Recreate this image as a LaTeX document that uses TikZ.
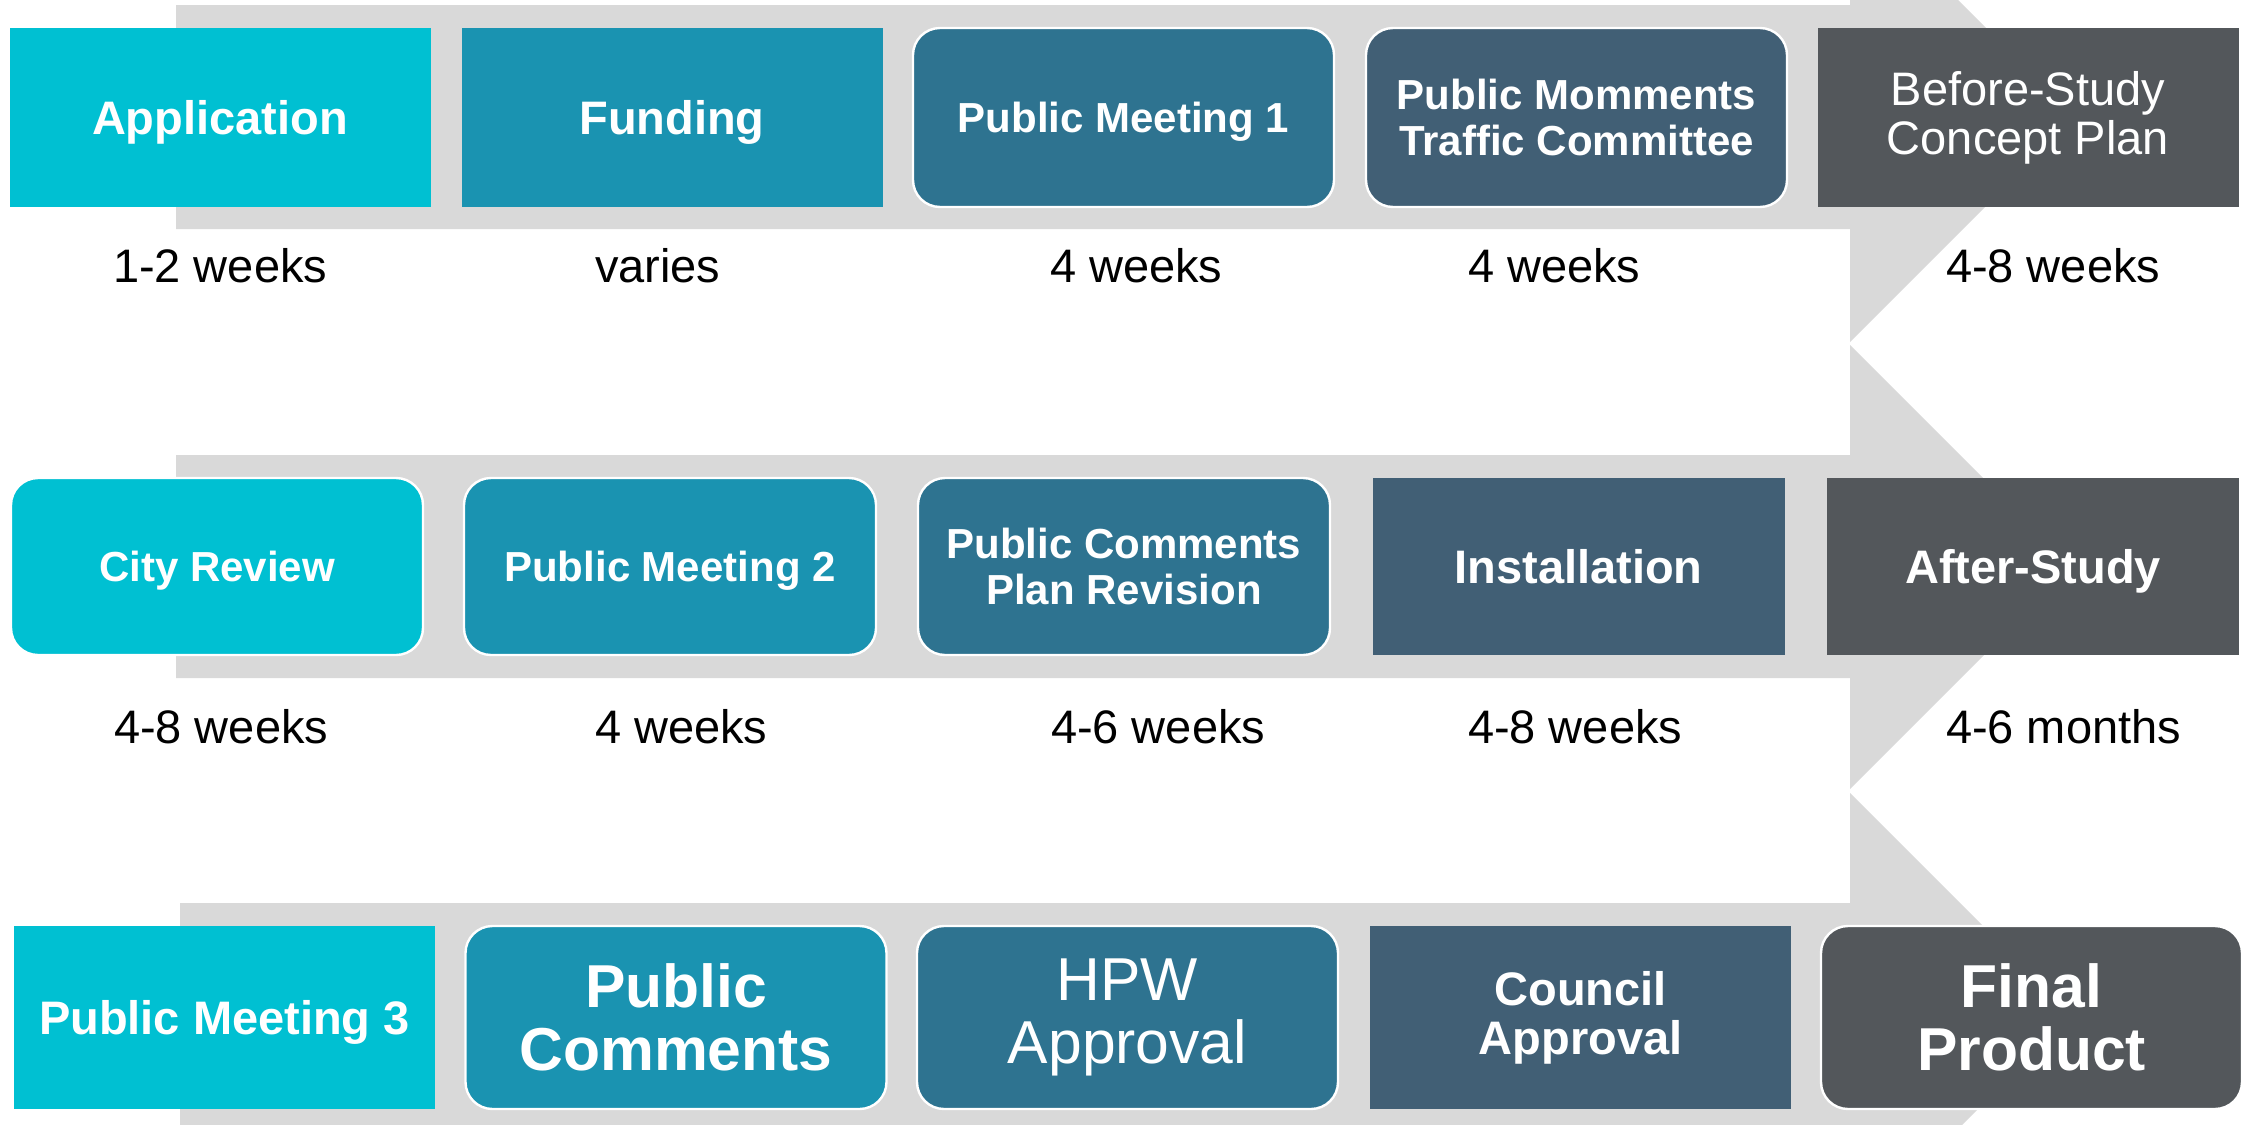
\documentclass[tikz,border=0pt]{standalone}
\usepackage{fontspec}
\setmainfont{Liberation Sans}
\usetikzlibrary{positioning}
\definecolor{pcCyan}{RGB}{0, 192, 210}
\definecolor{pcTeal}{RGB}{26, 147, 177}
\definecolor{pcBlue}{RGB}{46, 115, 144}
\definecolor{pcSlate}{RGB}{65, 95, 117}
\definecolor{pcGray}{RGB}{83, 87, 91}
\definecolor{pcBand}{RGB}{217, 217, 217}
\newcommand{\fsSmall}{\fontsize{21}{23}\selectfont}
\newcommand{\fsMid}{\fontsize{23.5}{24.6}\selectfont}
\newcommand{\fsBig}{\fontsize{30.3}{31.6}\selectfont}
\tikzset{
    base/.style={
        align=center,
        inner sep=0pt,
        outer sep=0pt
    },
    stage/.style={
        base,
        rectangle,
        text=white
    },
    roundstage/.style={
        stage,
        rounded corners=13.5pt,
        draw=white,
        line width=1.2pt
    },
    oneline/.style={text depth=0pt},
    rowA/.style={minimum width=210.5pt, minimum height=89.5pt},
    rowB/.style={minimum width=206pt, minimum height=88.5pt},
    rowC/.style={minimum width=210.5pt, minimum height=91.5pt},
    duration/.style={
        base,
        anchor=base west,
        font=\fsMid,
        text=black
    },
    band/.style={
        fill=pcBand
    }
}
\begin{document}
\begin{tikzpicture}[x=0.5pt, y=-0.5pt]
  \clip (0,0) rectangle (2250,1125);
  \fill[white] (0,0) rectangle (2250,1125);

  % Grey arrows behind the rows
  \fill[band] (176,5) -- (1850,5) -- (1850,-108) -- (2075,117) -- (1850,342) -- (1850,229) -- (176,229) -- cycle;
  \fill[band] (176,455) -- (1850,455) -- (1850,345) -- (2072,567) -- (1850,789) -- (1850,678) -- (176,678) -- cycle;
  \fill[band] (180,903) -- (1850,903) -- (1850,793) -- (2072,1015) -- (1850,1237) -- (1850,1127) -- (180,1127) -- cycle;

  % Row 1
  \node[stage, rowA, oneline, fill=pcCyan, font=\fsMid\bfseries] (app) at (220,117.5) {Application};
  \node[stage, rowA, oneline, fill=pcTeal, font=\fsMid\bfseries] (fund) at (672,117.5) {Funding};
  \node[roundstage, rowA, oneline, fill=pcBlue, font=\fsSmall\bfseries] (pmA) at (1123.5,117.5) {Public Meeting 1};
  \node[roundstage, rowA, fill=pcSlate, font=\fsSmall\bfseries] (pmom) at (1576.5,117.5) {Public Momments\\Traffic Committee};
  \node[stage, rowA, fill=pcGray, font=\fsMid] (before) at (2028,117.5) {Before-Study\\Concept Plan};

  \node[duration] (tApp) at (113,282) {1-2 weeks};
  \node[duration] (tFund) at (595,282) {varies};
  \node[duration] (tPmA) at (1050,282) {4 weeks};
  \node[duration] (tPmom) at (1468,282) {4 weeks};
  \node[duration] (tBefore) at (1946,282) {4-8 weeks};

  % Row 2
  \node[roundstage, rowB, oneline, fill=pcCyan, font=\fsSmall\bfseries] (city) at (217,566.5) {City Review};
  \node[roundstage, rowB, oneline, fill=pcTeal, font=\fsSmall\bfseries] (pmB) at (670,566.5) {Public Meeting 2};
  \node[roundstage, rowB, fill=pcBlue, font=\fsSmall\bfseries] (pcpr) at (1124,566.5) {Public Comments\\Plan Revision};
  \node[stage, rowB, oneline, fill=pcSlate, font=\fsMid\bfseries] (inst) at (1578.5,566.5) {Installation};
  \node[stage, rowB, oneline, fill=pcGray, font=\fsMid\bfseries] (after) at (2033,566.5) {After-Study};

  \node[duration] (tCity) at (114,743) {4-8 weeks};
  \node[duration] (tPmB) at (595,743) {4 weeks};
  \node[duration] (tPcpr) at (1051,743) {4-6 weeks};
  \node[duration] (tInst) at (1468,743) {4-8 weeks};
  \node[duration] (tAfter) at (1946,743) {4-6 months};

  % Row 3
  \node[stage, rowC, oneline, fill=pcCyan, font=\fsMid\bfseries] (pmC) at (224.5,1017.5) {Public Meeting 3};
  \node[roundstage, rowC, fill=pcTeal, font=\fsBig\bfseries] (pcom) at (676,1017.5) {Public\\Comments};
  \node[roundstage, rowC, fill=pcBlue, font=\fsBig] (hpw) at (1127.5,1017.5) {HPW\\Approval};
  \node[stage, rowC, fill=pcSlate, font=\fsMid\bfseries] (council) at (1580.5,1017.5) {Council\\Approval};
  \node[roundstage, rowC, fill=pcGray, font=\fsBig\bfseries] (final) at (2031.5,1017.5) {Final\\Product};
\end{tikzpicture}
\end{document}
